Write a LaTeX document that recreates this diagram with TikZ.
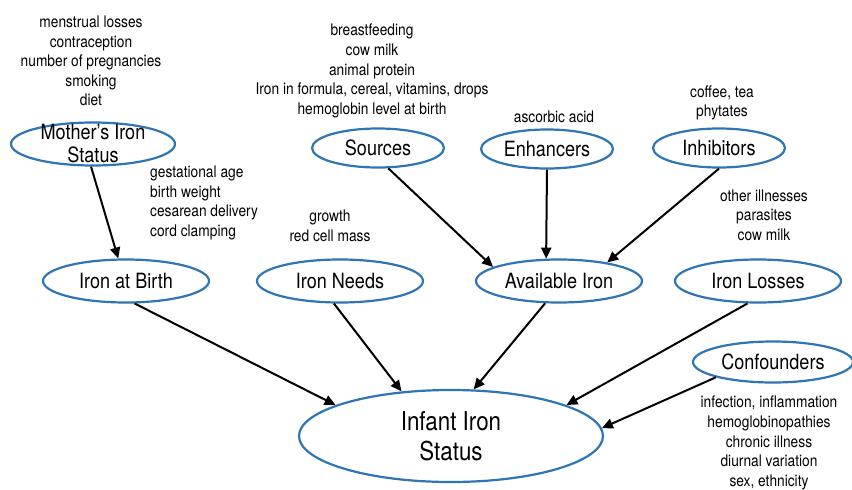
\documentclass[tikz,border=0pt]{standalone}
\usepackage{fontspec}
\setmainfont{TeX Gyre Heros}[FakeStretch=0.86]
\usetikzlibrary{arrows.meta,shapes.geometric}
\definecolor{ringblue}{RGB}{46,117,182}

\begin{document}
\begin{tikzpicture}[
  x=1pt, y=-1pt,
  factor/.style={ellipse, draw=ringblue, line width=2.2pt, inner sep=0pt,
                 align=center, font=\fontsize{21}{23}\selectfont},
  toprow/.style={factor, minimum width=132pt, minimum height=39pt},
  midrow/.style={factor, minimum width=166pt, minimum height=43pt},
  arrow/.style={-{Triangle[length=11pt,width=10pt]}, line width=2pt},
  note/.style={align=center, inner sep=0pt, font=\fontsize{16}{19.6}\selectfont}
]
\useasboundingbox (0,0) rectangle (852,490);

% --- Top row ---
\node[factor, minimum width=164pt, minimum height=43pt,
      label={[align=center, font=\fontsize{21}{23}\selectfont]center:Mother’s Iron\\Status}]
  (mother) at (93,144) {};
\node[toprow] (sources) at (378,148) {Sources};
\node[toprow] (enhancers) at (547,149) {Enhancers};
\node[toprow] (inhibitors) at (719,148) {Inhibitors};

% --- Middle row ---
\node[midrow] (birth) at (126,281) {Iron at Birth};
\node[midrow] (needs) at (340,281) {Iron Needs};
\node[midrow] (avail) at (559,281) {Available Iron};
\node[midrow] (losses) at (758,281) {Iron Losses};
\node[factor, minimum width=160pt, minimum height=41pt] (confounders) at (773,362) {Confounders};

% --- Outcome ---
\node[factor, minimum width=304pt, minimum height=92pt,
      font=\fontsize{26}{30}\selectfont] (infant) at (451,436) {Infant Iron\\Status};

% Annotations
\node[note] (motherfactors) at (91,61) {menstrual losses\\contraception\\number of pregnancies\\smoking\\diet};
\node[note, anchor=west, align=left] (birthfactors) at (150,203) {gestational age\\birth weight\\cesarean delivery\\cord clamping};
\node[note] (sourcelist) at (372,71) {breastfeeding\\cow milk\\animal protein\\Iron in formula, cereal, vitamins, drops\\hemoglobin level at birth};
\node[note] (enhancerlist) at (554,117) {ascorbic acid};
\node[note] (inhibitorlist) at (722,103) {coffee, tea\\phytates};
\node[note] (needlist) at (330,226) {growth\\red cell mass};
\node[note] (losslist) at (764,215) {other illnesses\\parasites\\cow milk};
\node[note] (confounderlist) at (769,443) {infection, inflammation\\hemoglobinopathies\\chronic illness\\diurnal variation\\sex, ethnicity};

% Arrows
\draw[arrow] (mother.-95) -- (birth.109);
\draw[arrow] (sources.-63) -- (avail.168);
\draw[arrow] (enhancers.south) -- (avail.120);
\draw[arrow] (inhibitors.south) -- (avail.21);
\draw[arrow] (birth.-69) -- (infant.165.6);
\draw[arrow] (needs.-105) -- (infant.138);
\draw[arrow] (avail.-122.5) -- (infant.64.4);
\draw[arrow] (losses.-115.5) -- (infant.15.5);
\draw[arrow] (confounders.-165) -- (infant.3.1);

\end{tikzpicture}
\end{document}
